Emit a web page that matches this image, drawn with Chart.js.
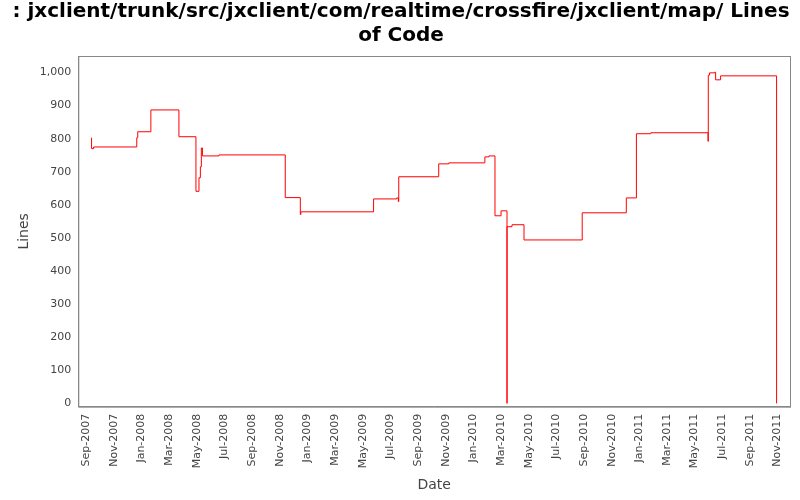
<!DOCTYPE html><html><head><script src="https://cdn.jsdelivr.net/npm/chart.js"></script>
<style>body{margin:0;background:#fff}#w{width:800px;height:500px}</style></head><body><div id="w"><canvas id="c"></canvas></div>
<script>
// x = months since Sep-2007
const monthsX=[0.38,0.38,0.53,3.65,3.72,4.67,6.70,7.93,8.15,8.25,8.32,8.40,9.60,14.39,15.48,15.52,20.78,22.45,22.57,22.60,25.49,26.22,28.83,29.12,29.56,30.0,30.43,30.43,30.79,31.66,35.87,39.06,39.79,40.83,44.97,44.99,45.08,45.45,45.52,45.88,49.93];
const lineValues=[803,770,775,803,821,887,806,641,682,715,772,748,751,622,571,579,618,621,610,685,724,727,745,748,567,582,0,534,540,494,576,621,815,818,792,992,999,1001,978,990,0];
const tickLabels=["Sep-2007","Nov-2007","Jan-2008","Mar-2008","May-2008","Jul-2008","Sep-2008","Nov-2008","Jan-2009","Mar-2009","May-2009","Jul-2009","Sep-2009","Nov-2009","Jan-2010","Mar-2010","May-2010","Jul-2010","Sep-2010","Nov-2010","Jan-2011","Mar-2011","May-2011","Jul-2011","Sep-2011","Nov-2011"];
const pts=monthsX.map((x,i)=>({x,y:lineValues[i]}));
const border={id:'b',afterDraw(ch){const a=ch.chartArea,c=ch.ctx;c.save();c.strokeStyle='#888';c.lineWidth=1;c.strokeRect(a.left+0.5,a.top+0.5,a.width,a.height);c.restore();}};
new Chart(document.getElementById('c'),{type:'line',data:{datasets:[{data:pts,borderColor:'#ff0000',borderWidth:1,stepped:true,pointRadius:0,fill:false}]},
options:{responsive:true,maintainAspectRatio:false,animation:false,layout:{padding:{left:12,right:10,bottom:6}},
plugins:{legend:{display:false},tooltip:{enabled:false},title:{display:true,text:[": jxclient/trunk/src/jxclient/com/realtime/crossfire/jxclient/map/ Lines","of Code"],font:{family:'DejaVu Sans',size:20,weight:'bold'},color:'#000',padding:{top:0,bottom:8},lineHeight:1.15}},
scales:{x:{type:'linear',min:-0.58,max:50.9,afterBuildTicks(s){s.ticks=tickLabels.map((l,i)=>({value:i*2}));},
ticks:{autoSkip:false,maxRotation:90,minRotation:90,font:{family:'DejaVu Sans',size:11},color:'#444',callback:(v)=>tickLabels[v/2]},
grid:{display:false,drawTicks:true,tickLength:4,color:'#888'},border:{color:'#888'},title:{display:true,text:'Date',font:{family:'DejaVu Sans',size:14},color:'#444',padding:{top:6,bottom:0}}},
y:{min:-10,max:1050,afterBuildTicks(s){s.ticks=[0,100,200,300,400,500,600,700,800,900,1000].map(v=>({value:v}));},
ticks:{font:{family:'DejaVu Sans',size:11},color:'#444',callback:v=>v.toLocaleString('en-US')},
grid:{display:false,drawTicks:true,tickLength:4,color:'#888'},border:{color:'#888'},title:{display:true,text:'Lines',font:{family:'DejaVu Sans',size:14},color:'#444'}}}},plugins:[border]});
</script></body></html>
